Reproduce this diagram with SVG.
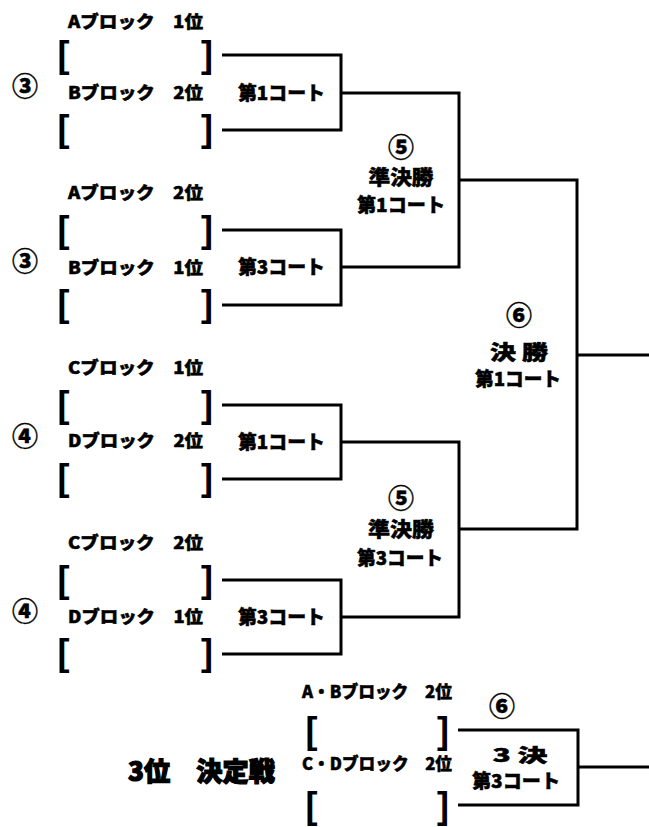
<svg xmlns="http://www.w3.org/2000/svg" width="649" height="827" viewBox="0 0 649 827">
<style>
.t{font-family:"Noto Sans CJK JP","Noto Sans",sans-serif;font-weight:900;fill:#000;stroke:#000;stroke-width:0.5}
.lb{font-size:17px}
.ct{font-size:19px}
.cn{font-size:26px;stroke-width:0.4}
.sm{font-size:20px}
.big{font-size:26px;stroke-width:1.2}
.br{font-family:"Liberation Sans",Arial,sans-serif;font-weight:700;font-size:36px;fill:#000}
.ln{fill:none;stroke:#000;stroke-width:3}
.mid{text-anchor:middle}
</style>
<rect width="649" height="827" fill="#fff"/>
<g id="connectors">
<path class="ln" d="M222 55H341V130H222"/>
<path class="ln" d="M222 230H341V305H222"/>
<path class="ln" d="M222 405H341V479H222"/>
<path class="ln" d="M222 580H341V654H222"/>
<path class="ln" d="M341 93H459V267H341"/>
<path class="ln" d="M341 442H459V617H341"/>
<path class="ln" d="M459 180H577V529H459"/>
<path class="ln" d="M577 355H649"/>
<path class="ln" d="M458 730H578V805H458"/>
<path class="ln" d="M578 767H649"/>
</g>
<g id="match1">
<text class="t lb" x="68" y="28" textLength="135" lengthAdjust="spacingAndGlyphs">Aブロック　1位</text>
<text class="br" x="57.5" y="67">[</text><text class="br" x="201" y="67">]</text>
<text class="t cn mid" x="25" y="96">③</text>
<text class="t lb" x="68" y="99" textLength="135" lengthAdjust="spacingAndGlyphs">Bブロック　2位</text>
<text class="br" x="57.5" y="141">[</text><text class="br" x="201" y="141">]</text>
<text class="t ct" x="238" y="100" textLength="87" lengthAdjust="spacingAndGlyphs">第1コート</text>
</g>
<g id="match2">
<text class="t lb" x="68" y="199" textLength="135" lengthAdjust="spacingAndGlyphs">Aブロック　2位</text>
<text class="br" x="57.5" y="242">[</text><text class="br" x="201" y="242">]</text>
<text class="t cn mid" x="25" y="271">③</text>
<text class="t lb" x="68" y="274" textLength="135" lengthAdjust="spacingAndGlyphs">Bブロック　1位</text>
<text class="br" x="57.5" y="316">[</text><text class="br" x="201" y="316">]</text>
<text class="t ct" x="238" y="274" textLength="87" lengthAdjust="spacingAndGlyphs">第3コート</text>
</g>
<g id="match3">
<text class="t lb" x="68" y="374" textLength="135" lengthAdjust="spacingAndGlyphs">Cブロック　1位</text>
<text class="br" x="57.5" y="417">[</text><text class="br" x="201" y="417">]</text>
<text class="t cn mid" x="25" y="446">④</text>
<text class="t lb" x="68" y="447" textLength="135" lengthAdjust="spacingAndGlyphs">Dブロック　2位</text>
<text class="br" x="57.5" y="490">[</text><text class="br" x="201" y="490">]</text>
<text class="t ct" x="238" y="449" textLength="87" lengthAdjust="spacingAndGlyphs">第1コート</text>
</g>
<g id="match4">
<text class="t lb" x="68" y="549" textLength="135" lengthAdjust="spacingAndGlyphs">Cブロック　2位</text>
<text class="br" x="57.5" y="592">[</text><text class="br" x="201" y="592">]</text>
<text class="t cn mid" x="25" y="621">④</text>
<text class="t lb" x="68" y="623" textLength="135" lengthAdjust="spacingAndGlyphs">Dブロック　1位</text>
<text class="br" x="57.5" y="665">[</text><text class="br" x="201" y="665">]</text>
<text class="t ct" x="238" y="624" textLength="87" lengthAdjust="spacingAndGlyphs">第3コート</text>
</g>
<g id="semi1">
<text class="t cn mid" x="401" y="157">⑤</text>
<text class="t sm mid" x="401" y="185" textLength="65" lengthAdjust="spacingAndGlyphs">準決勝</text>
<text class="t ct mid" x="401" y="212" textLength="88" lengthAdjust="spacingAndGlyphs">第1コート</text>
</g>
<g id="semi2">
<text class="t cn mid" x="401" y="508">⑤</text>
<text class="t sm mid" x="401" y="537" textLength="66" lengthAdjust="spacingAndGlyphs">準決勝</text>
<text class="t ct mid" x="400" y="565" textLength="86" lengthAdjust="spacingAndGlyphs">第3コート</text>
</g>
<g id="final">
<text class="t cn mid" x="519" y="325">⑥</text>
<text class="t sm mid" x="519" y="360" textLength="58" lengthAdjust="spacingAndGlyphs">決 勝</text>
<text class="t ct mid" x="518" y="386" textLength="86" lengthAdjust="spacingAndGlyphs">第1コート</text>
</g>
<g id="third">
<text class="t big" x="128" y="781" textLength="147" lengthAdjust="spacingAndGlyphs">3位　決定戦</text>
<text class="t lb" x="302" y="698" textLength="150" lengthAdjust="spacingAndGlyphs">A・Bブロック　2位</text>
<text class="br" x="305.5" y="743">[</text><text class="br" x="437" y="743">]</text>
<text class="t lb" x="302" y="770" textLength="150" lengthAdjust="spacingAndGlyphs">C・Dブロック　2位</text>
<text class="br" x="305.5" y="818">[</text><text class="br" x="437" y="818">]</text>
<text class="t cn mid" x="502" y="716">⑥</text>
<text class="t mid" x="520" y="762" font-size="18" textLength="55" lengthAdjust="spacingAndGlyphs">3 決</text>
<text class="t ct mid" x="516" y="788" textLength="88" lengthAdjust="spacingAndGlyphs">第3コート</text>
</g>
</svg>
